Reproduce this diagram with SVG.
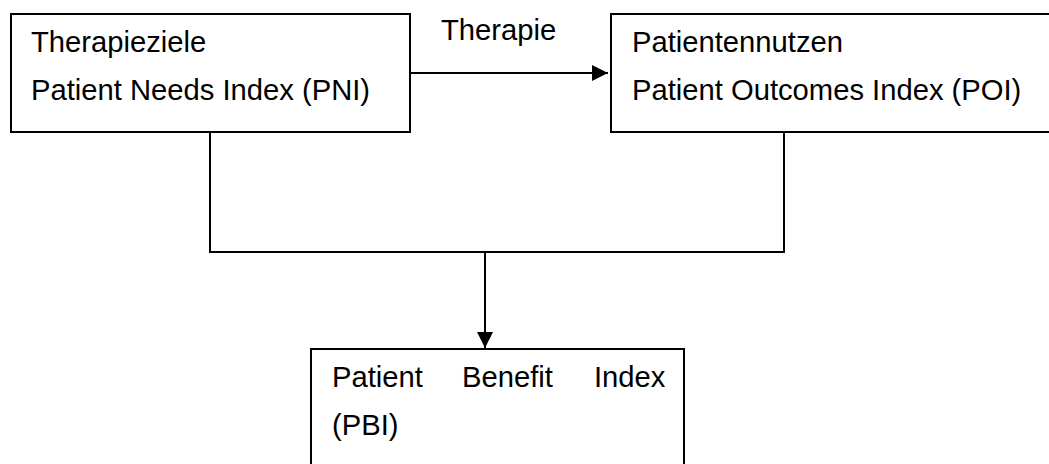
<svg xmlns="http://www.w3.org/2000/svg" width="1049" height="464" viewBox="0 0 1049 464">
  <style>
    .box { fill: #ffffff; stroke: #000000; stroke-width: 2; }
    .txt { font-family: "Liberation Sans", Arial, sans-serif; font-size: 29.2px; fill: #000000; }
    .line { fill: none; stroke: #000000; stroke-width: 2; }
  </style>
  <defs>
    <marker id="arrow" viewBox="0 0 16 16" refX="16" refY="8" markerWidth="16" markerHeight="16" markerUnits="userSpaceOnUse" orient="auto">
      <path d="M0,0 L16,8 L0,16 Z" fill="#000000"/>
    </marker>
  </defs>
  <rect width="1049" height="464" fill="#ffffff"/>
  <g id="connectors">
    <path class="line" d="M410,73 H608" marker-end="url(#arrow)"/>
    <path class="line" d="M210,132 V252 H784 V132"/>
    <path class="line" d="M485,252 V348" marker-end="url(#arrow)"/>
    <text class="txt" x="441" y="40">Therapie</text>
  </g>
  <g id="node-pni">
    <rect class="box" x="11" y="14" width="399" height="118"/>
    <text class="txt" x="31" y="52">Therapieziele</text>
    <text class="txt" x="31" y="100">Patient Needs Index (PNI)</text>
  </g>
  <g id="node-poi">
    <rect class="box" x="611" y="14" width="460" height="118"/>
    <text class="txt" x="632" y="52">Patientennutzen</text>
    <text class="txt" x="632" y="100">Patient Outcomes Index (POI)</text>
  </g>
  <g id="node-pbi">
    <rect class="box" x="311" y="349" width="373" height="140"/>
    <text class="txt" y="387"><tspan x="332">Patient</tspan><tspan x="462">Benefit</tspan><tspan x="594">Index</tspan></text>
    <text class="txt" x="332" y="435">(PBI)</text>
  </g>
</svg>
